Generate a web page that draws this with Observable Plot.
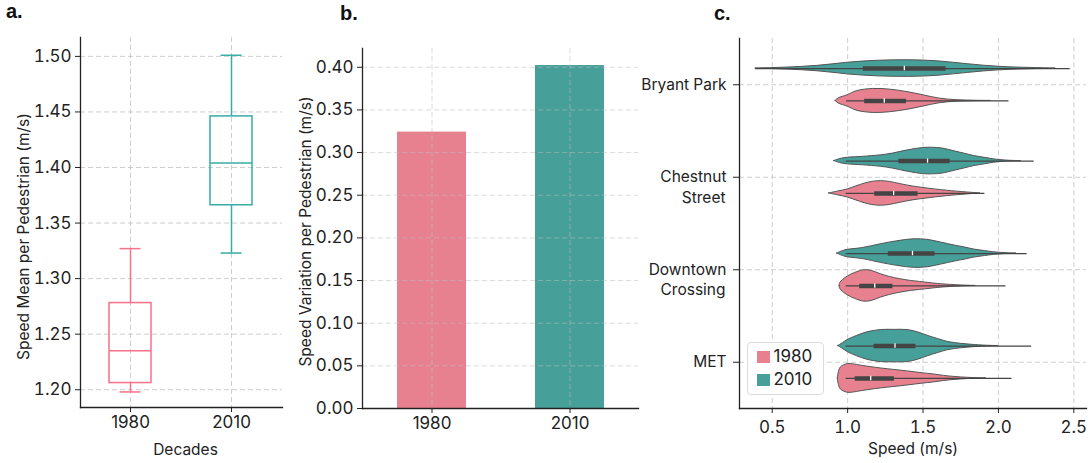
<!DOCTYPE html>
<html><head><meta charset="utf-8">
<script src="https://cdn.jsdelivr.net/npm/d3@7"></script>
<script src="https://cdn.jsdelivr.net/npm/@observablehq/plot@0.6"></script>
<style>
body{margin:0;background:#fff;font-family:Inter,"Noto Sans",sans-serif;}
#root{position:relative;width:1091px;height:463px;overflow:hidden;background:#fff}
.panel{position:absolute;top:0}
.tag{position:absolute;font:bold 20px "Liberation Sans",Arial,sans-serif;color:#111;line-height:20px}
.legend{position:absolute;left:747px;top:342px;width:75px;height:51px;border:1px solid #dcdcdc;border-radius:4px;background:rgba(255,255,255,0.85);font:17px Inter,sans-serif;color:#222}
.legend .row{position:absolute;left:9px;height:20px;line-height:20px}
.legend .sw{display:inline-block;width:12.5px;height:12px;vertical-align:-1px;margin-right:4px}
</style></head><body><div id="root"></div><script>
// ---------- data ----------
const decades = ["1980", "2010"];
// panel a: speed mean per pedestrian (box statistics)
const boxMin    = [1.198, 1.323];
const boxQ1     = [1.206, 1.366];
const boxMedian = [1.235, 1.404];
const boxQ3     = [1.278, 1.446];
const boxMax    = [1.327, 1.501];
const yTicksA = [1.20, 1.25, 1.30, 1.35, 1.40, 1.45, 1.50];
// panel b: speed variation per pedestrian
const speedVariation = [0.324, 0.402];
const yTicksB = [0, 0.05, 0.10, 0.15, 0.20, 0.25, 0.30, 0.35, 0.40];
// panel c: speed distributions by site
const sites = ["Bryant Park", "Chestnut\nStreet", "Downtown\nCrossing", "MET"];
const xTicksC = [0.5, 1.0, 1.5, 2.0, 2.5];
// violin density profiles [speed, density]
const bryant2010 = [[0.39,0],[0.5,0.5],[0.6,1],[0.7,1.7],[0.8,2.7],[0.9,4.2],[1.0,5.8],[1.1,7],[1.2,7.8],[1.3,8.2],[1.4,8.3],[1.5,8.0],[1.6,7.2],[1.7,5.8],[1.8,4.3],[1.9,2.9],[2.0,1.8],[2.1,1.1],[2.2,0.7],[2.3,0.3],[2.38,0]];
const bryant1980 = [[0.92,0],[0.94,2.5],[1.0,5.7],[1.06,9.7],[1.17,12],[1.28,11.3],[1.39,9],[1.5,5.7],[1.61,2.3],[1.73,0.7],[1.85,0.2],[1.95,0]];
const chestnut2010 = [[0.91,0],[0.95,2],[1.0,3.3],[1.1,4.2],[1.22,5.7],[1.3,7.5],[1.4,10.7],[1.5,13],[1.56,13.3],[1.63,12.5],[1.71,9.7],[1.78,7.2],[1.84,5],[1.92,3],[1.97,1.7],[2.06,0.4],[2.15,0]];
const chestnut1980 = [[0.876,0],[0.94,2],[1.0,4],[1.09,8.7],[1.16,11.5],[1.22,12.3],[1.28,11.5],[1.35,9.3],[1.43,7],[1.51,5.3],[1.58,4],[1.66,2.7],[1.79,1],[1.88,0]];
const downtown2010 = [[0.93,0],[0.97,2.5],[1.0,3.7],[1.1,5.5],[1.22,9.3],[1.33,12.3],[1.44,14.3],[1.53,13.7],[1.62,11],[1.71,8],[1.78,6],[1.84,4],[1.91,2.5],[1.97,1.3],[2.06,0.3],[2.12,0]];
const downtown1980 = [[0.947,0],[0.95,2.7],[0.97,6],[1.0,9.3],[1.05,13],[1.11,15.7],[1.16,15],[1.22,11.7],[1.28,9],[1.35,6.7],[1.42,5],[1.48,4],[1.55,2.8],[1.62,1.7],[1.75,0.5],[1.85,0]];
const met2010 = [[0.938,0],[0.97,3],[1.0,6],[1.06,10],[1.13,13.7],[1.22,16],[1.31,16.2],[1.4,16],[1.47,13.5],[1.53,10.3],[1.6,7],[1.66,4.3],[1.72,2.8],[1.79,1.7],[1.9,0.5],[2.0,0]];
const met1980 = [[0.935,0],[0.94,5],[0.955,11],[1.0,14.3],[1.05,13.8],[1.1,12.5],[1.22,10],[1.31,8.5],[1.4,7],[1.49,5.3],[1.57,4],[1.64,2.5],[1.71,1.5],[1.8,0.6],[1.92,0]];
// inner box stats per site: [q1, median, q3, low, high]
const inner2010 = [[1.104,1.376,1.653,0.39,2.476],[1.34,1.53,1.68,0.99,2.237],[1.27,1.43,1.58,0.99,2.19],[1.175,1.314,1.453,0.99,2.22]];
const inner1980 = [[1.113,1.243,1.39,0.993,2.07],[1.18,1.305,1.467,0.99,1.91],[1.08,1.18,1.30,0.99,2.05],[1.05,1.153,1.31,0.99,2.09]];

// ---------- styles ----------
const strokeColors = ["#f77189", "#36ada4"];
const fillColors = ["#e8818f", "#469f99"];
const gridStyle = {stroke: "#bdbdbd", strokeOpacity: 0.75, strokeDasharray: "5,3", strokeWidth: 1};
const axisColor = "#222";
const tickFont = 17, labelFont = 15.5;
const root = document.getElementById("root");
function place(svg, left) {
  svg.classList.add("panel");
  svg.style.left = left + "px";
  root.appendChild(svg);
}
const baseStyle = {fontFamily: "Inter, 'Noto Sans', sans-serif", fontSize: "16px", color: axisColor, background: "transparent", overflow: "visible"};
const yLabel = (text, dx, dy) => Plot.text([text], {frameAnchor: "left", textAnchor: "middle", lineAnchor: "middle", rotate: -90, dx, dy, fontSize: labelFont, fill: axisColor});
const xLabel = (text, dx, dy) => Plot.text([text], {frameAnchor: "bottom", textAnchor: "middle", lineAnchor: "middle", dx, dy, fontSize: labelFont, fill: axisColor});

// ---------- panel a ----------
const boxRows = decades.map((d, i) => ({decade: d, min: boxMin[i], q1: boxQ1[i], median: boxMedian[i], q3: boxQ3[i], max: boxMax[i]}));
const plotA = Plot.plot({
  width: 290, height: 463, marginLeft: 80, marginRight: 8, marginTop: 37, marginBottom: 56,
  style: baseStyle,
  x: {type: "band", domain: decades, paddingInner: 0.584, paddingOuter: 0.292},
  y: {domain: [1.184, 1.517]},
  color: {domain: decades, range: strokeColors},
  marks: [
    Plot.gridX(decades, gridStyle),
    Plot.gridY(yTicksA, gridStyle),
    Plot.ruleX(boxRows, {x: "decade", y1: "q3", y2: "max", stroke: "decade", strokeWidth: 1.5}),
    Plot.ruleX(boxRows, {x: "decade", y1: "min", y2: "q1", stroke: "decade", strokeWidth: 1.5}),
    Plot.barY(boxRows, {x: "decade", y1: "q1", y2: "q3", fill: "none", stroke: "decade", strokeWidth: 1.5}),
    Plot.tickY(boxRows, {x: "decade", y: "median", stroke: "decade", strokeWidth: 1.5}),
    Plot.tickY(boxRows, {x: "decade", y: "max", stroke: "decade", strokeWidth: 1.5, insetLeft: 10.5, insetRight: 10.5}),
    Plot.tickY(boxRows, {x: "decade", y: "min", stroke: "decade", strokeWidth: 1.5, insetLeft: 10.5, insetRight: 10.5}),
    Plot.axisY({ticks: yTicksA, tickFormat: d3.format(".2f"), tickSize: 5, tickPadding: 4, label: null, fontSize: tickFont}),
    Plot.axisX({tickSize: 5, tickPadding: 3, label: null, fontSize: tickFont}),
    Plot.frame({anchor: "left", stroke: axisColor, strokeWidth: 1.3}),
    Plot.frame({anchor: "bottom", stroke: axisColor, strokeWidth: 1.3}),
    yLabel("Speed Mean per Pedestrian (m/s)", -56, 14),
    xLabel("Decades", 4, 43)
  ]
});
place(plotA, 0);

// ---------- panel b ----------
const barRows = decades.map((d, i) => ({decade: d, value: speedVariation[i]}));
const plotB = Plot.plot({
  width: 350, height: 463, marginLeft: 72, marginRight: 2, marginTop: 48, marginBottom: 55,
  style: baseStyle,
  x: {type: "band", domain: decades, paddingInner: 0.5, paddingOuter: 0.25},
  y: {domain: [0, 0.422]},
  color: {domain: decades, range: fillColors},
  marks: [
    Plot.barY(barRows, {x: "decade", y: "value", fill: "decade"}),
    Plot.gridX(decades, {...gridStyle, strokeOpacity: 0.55}),
    Plot.gridY(yTicksB, {...gridStyle, strokeOpacity: 0.55}),
    Plot.axisY({ticks: yTicksB, tickFormat: d3.format(".2f"), tickSize: 5, tickPadding: 4, label: null, fontSize: tickFont}),
    Plot.axisX({tickSize: 5, tickPadding: 3, label: null, fontSize: tickFont}),
    Plot.frame({anchor: "left", stroke: axisColor, strokeWidth: 1.3}),
    Plot.frame({anchor: "bottom", stroke: axisColor, strokeWidth: 1.3}),
    yLabel("Speed Variation per Pedestrian (m/s)", -56, 3)
  ]
});
place(plotB, 290);

// ---------- panel c ----------
const cTop = 38, cBottom = 55, cHeight = 463;
const unitsPerPx = 4 / (cHeight - cTop - cBottom);
const yearOffset = {"2010": -0.175, "1980": 0.175};
const profiles = {"2010": [bryant2010, chestnut2010, downtown2010, met2010], "1980": [bryant1980, chestnut1980, downtown1980, met1980]};
const innerStats = {"2010": inner2010, "1980": inner1980};
const violinRows = [];
const statRows = [];
for (const year of decades) {
  sites.forEach((site, s) => {
    const center = s + yearOffset[year];
    for (const [speed, dens] of profiles[year][s]) {
      violinRows.push({key: year + s, year, speed, y1: center - dens * unitsPerPx, y2: center + dens * unitsPerPx});
    }
    const [q1, med, q3, lo, hi] = innerStats[year][s];
    statRows.push({year, center, q1, med, q3, lo, hi, m1: center - 2.2 * unitsPerPx, m2: center + 2.2 * unitsPerPx});
  });
}
const siteIdx = sites.map((s, i) => i);
const secondLines = sites.map((s, i) => ({i, t: s.split("\n")[1] || ""})).filter(d => d.t);
const plotC = Plot.plot({
  width: 451, height: cHeight, marginLeft: 99, marginRight: 5, marginTop: cTop, marginBottom: cBottom,
  style: baseStyle,
  x: {domain: [0.283, 2.584]},
  y: {domain: [3.5, -0.5]},
  color: {domain: decades, range: fillColors},
  marks: [
    Plot.gridX(xTicksC, gridStyle),
    Plot.gridY(siteIdx, gridStyle),
    Plot.areaY(violinRows, {x: "speed", y1: "y1", y2: "y2", z: "key", fill: "year", stroke: "#555", strokeWidth: 1, curve: "catmull-rom"}),
    Plot.ruleY(statRows, {y: "center", x1: "lo", x2: "hi", stroke: "#444", strokeWidth: 1.3}),
    Plot.ruleY(statRows, {y: "center", x1: "q1", x2: "q3", stroke: "#444", strokeWidth: 4.5}),
    Plot.ruleX(statRows, {x: "med", y1: "m1", y2: "m2", stroke: "white", strokeWidth: 1.3}),
    Plot.axisY({ticks: siteIdx, tickFormat: i => sites[i].split("\n")[0], tickSize: 6, tickPadding: 7, label: null, fontSize: labelFont}),
    Plot.text(secondLines, {y: "i", text: "t", frameAnchor: "left", textAnchor: "end", lineAnchor: "middle", dx: -14, dy: 20.5, fontSize: labelFont, fill: axisColor}),
    Plot.axisX({ticks: xTicksC, tickFormat: d3.format(".1f"), tickSize: 5, tickPadding: 7, label: null, fontSize: tickFont}),
    Plot.frame({anchor: "left", stroke: axisColor, strokeWidth: 1.3}),
    Plot.frame({anchor: "bottom", stroke: axisColor, strokeWidth: 1.3}),
    xLabel("Speed (m/s)", 0, 41)
  ]
});
place(plotC, 640);

// ---------- panel tags & legend ----------
[["a.", 6, 1], ["b.", 340, 3], ["c.", 714, 3]].forEach(([t, x, y]) => {
  const d = document.createElement("div");
  d.className = "tag"; d.textContent = t; d.style.left = x + "px"; d.style.top = y + "px";
  root.appendChild(d);
});
const leg = document.createElement("div");
leg.className = "legend";
decades.forEach((d, i) => {
  const row = document.createElement("div");
  row.className = "row";
  row.style.top = (3 + i * 23) + "px";
  row.innerHTML = `<span class="sw" style="background:${fillColors[i]}"></span>${d}`;
  leg.appendChild(row);
});
root.appendChild(leg);
</script></body></html>
